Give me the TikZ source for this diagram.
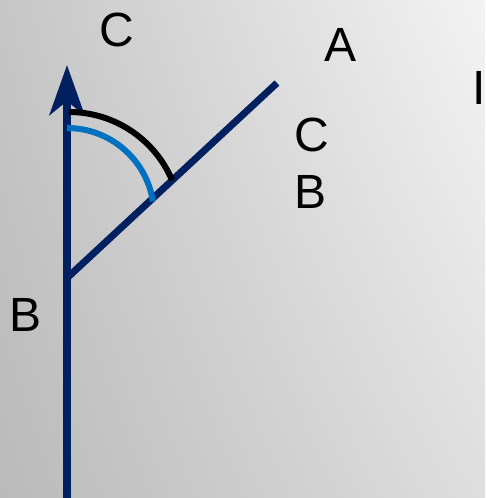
\documentclass[tikz,border=0pt]{standalone}
\usepackage{fontspec}
\setmainfont{Liberation Sans}
\usepackage{xcolor}
\usepackage{tikz}
\usetikzlibrary{arrows.meta,shadings}
\definecolor{axnavy}{RGB}{0,32,96}
\definecolor{axblue}{RGB}{0,112,192}
\definecolor{bgtl}{RGB}{198,198,198}
\definecolor{bgtr}{RGB}{243,243,243}
\definecolor{bgbl}{RGB}{186,186,186}
\definecolor{bgbr}{RGB}{222,222,222}

\begin{document}
\begin{tikzpicture}[
  x=1pt, y=-1pt,
  lbl/.style={inner sep=0pt, font=\fontsize{48}{48}\selectfont},
  ray/.style={draw=axnavy, line width=7.5pt},
  arcline/.style={line width=6pt}
]
\shade[upper left=bgtl, upper right=bgtr, lower left=bgbl, lower right=bgbr] (0,0) rectangle (485,498);
\useasboundingbox (0,0) rectangle (485,498);

\coordinate (base) at (67,498);
\coordinate (tip) at (67,65);
\coordinate (vertex) at (67,278);
\coordinate (end) at (277,83);

\draw[ray, -{Stealth[length=50pt, width=35pt, inset=14pt]}] (base) -- (tip);
\draw[ray, line width=7pt] (vertex) -- (end);
\draw[arcline, draw=black] (69,112) arc[start angle=-90, end angle=-23, radius=112];
\draw[arcline, draw=axblue] (67,128) arc[start angle=-90, end angle=-9, radius=87];

\node[lbl] (ctop) at (117,30) {C};
\node[lbl] (a) at (340.5,44.5) {A};
\node[lbl] (i) at (479,88) {I};
\node[lbl] (cmid) at (312,135) {C};
\node[lbl] (bmid) at (311,192) {B};
\node[lbl] (bleft) at (25.5,315) {B};
\end{tikzpicture}
\end{document}
